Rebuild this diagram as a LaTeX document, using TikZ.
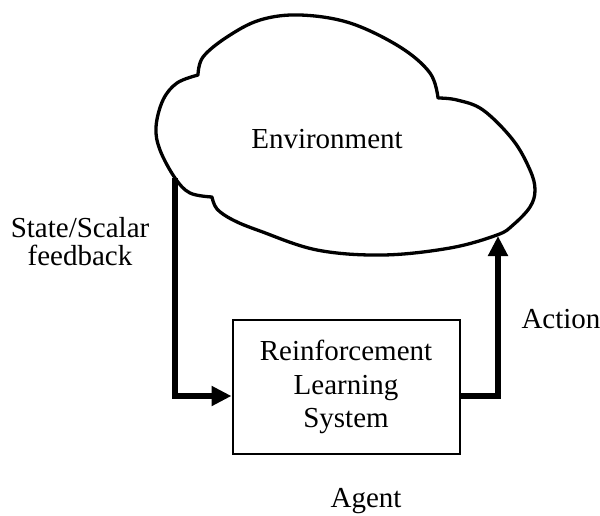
\documentclass[tikz,border=0pt]{standalone}
\usepackage{fontspec}
\setmainfont{Liberation Serif}
\usetikzlibrary{arrows.meta}
\begin{document}
\begin{tikzpicture}[x=1pt,y=-1pt,
  label/.style={font=\fontsize{29}{33.5}\selectfont, inner sep=0pt, anchor=base, align=center},
  cloudline/.style={line width=3.3pt, line join=round},
  sysbox/.style={draw, line width=2pt, minimum width=227pt, minimum height=134pt,
                 font=\fontsize{29}{33.5}\selectfont, align=center, inner sep=0pt},
  flow/.style={line width=6.5pt, line join=miter,
               -{Triangle[length=20pt,width=19pt]}}]
  \useasboundingbox (0,0) rectangle (600,515);

  % environment cloud: three smooth lobes meeting at small notches
  \draw[cloudline]
    plot[smooth,tension=0.6] coordinates {(198,75) (203,57) (227,37) (260,20) (300,15) (350,23) (400,47) (430,73) (438,98)}
    -- plot[smooth,tension=0.6] coordinates {(438,98) (457,100) (483,110) (513,140) (530,170) (535,190) (530,207) (513,225) (497,235) (450,248) (383,255) (317,250) (260,231) (233,220) (217,209) (212,197)}
    -- plot[smooth,tension=0.6] coordinates {(212,197) (190,193) (175,178) (160,150) (156,127) (163,100) (177,83) (198,75)}
    -- cycle;
  \coordinate (envOut) at (175,178);
  \coordinate (envIn) at (498,236);
  \node[label] (env) at (327,148) {Environment};

  % agent
  \node[sysbox] (rl) at (346,387) {Reinforcement\\Learning\\System};
  \node[label] (agent) at (366,507.5) {Agent};

  % loop connectors
  \draw[flow] (envOut) |- ([yshift=-9pt]rl.west);
  \draw[flow] ([yshift=-9pt]rl.east) -| (envIn);

  \node[label] (state) at (80,237) {State/Scalar};
  \node[label] (fb) at (80,265.5) {feedback};
  \node[label] (act) at (561,328) {Action};
\end{tikzpicture}
\end{document}
